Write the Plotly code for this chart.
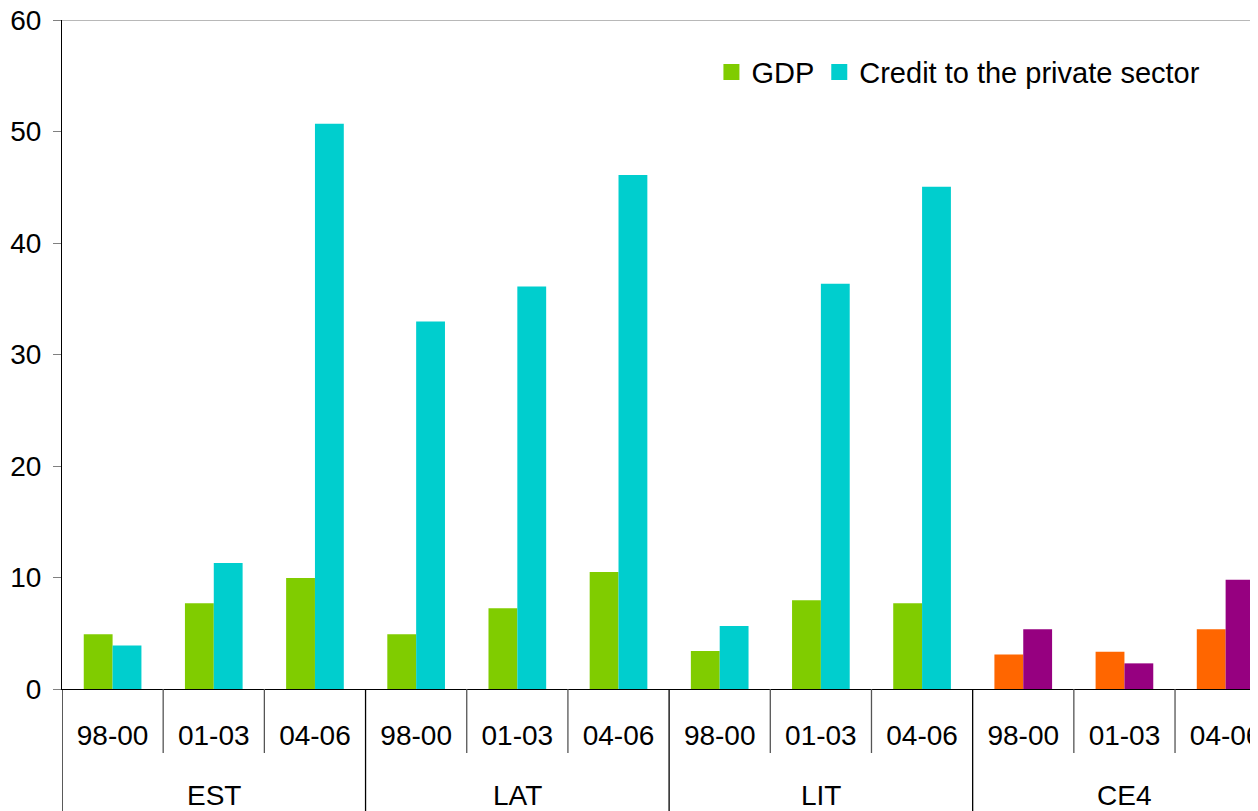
import plotly.graph_objects as go

groups = ["EST", "LAT", "LIT", "CE4"]
periods = ["98-00", "01-03", "04-06"] * 4
gdp = [4.9, 7.7, 9.95, 4.9, 7.25, 10.5, 3.4, 7.95, 7.7, 3.1, 3.35, 5.35]
credit = [3.9, 11.3, 50.7, 32.95, 36.1, 46.1, 5.65, 36.35, 45.05, 5.35, 2.3, 9.8]

GREEN, CYAN, ORANGE, PURPLE = "#80CC00", "#00CECE", "#FF6600", "#960080"
gdp_colors = [GREEN] * 9 + [ORANGE] * 3
credit_colors = [CYAN] * 9 + [PURPLE] * 3

FONT = "Liberation Sans, Arial, sans-serif"
pos = list(range(len(periods)))

# page body has an 8px margin; the figure is sized so the plot lands where the reference has it
W, H = 1250, 803
PLOT_H = 669

fig = go.Figure()
fig.add_trace(go.Bar(x=pos, y=gdp, name="GDP",
                     marker=dict(color=gdp_colors, line=dict(width=0)), showlegend=False))
fig.add_trace(go.Bar(x=pos, y=credit, name="Credit to the private sector",
                     marker=dict(color=credit_colors, line=dict(width=0)), showlegend=False))
# legend entries
fig.add_trace(go.Scatter(x=[None], y=[None], mode="markers", name="GDP",
                         marker=dict(symbol="square", size=16, color=GREEN)))
fig.add_trace(go.Scatter(x=[None], y=[None], mode="markers", name="Credit to the private sector",
                         marker=dict(symbol="square", size=16, color=CYAN)))

fig.update_layout(
    width=W, height=H,
    margin=dict(l=54, r=0, t=12, b=H - 12 - PLOT_H, autoexpand=False),
    paper_bgcolor="white", plot_bgcolor="white",
    barmode="group", bargap=0.43, bargroupgap=0,
    font=dict(family=FONT, size=28, color="black"),
    legend=dict(orientation="h", x=0.543, y=0.922, xanchor="left", yanchor="middle",
                bgcolor="rgba(0,0,0,0)", font=dict(size=29), itemwidth=30,
                tracegroupgap=0),
    showlegend=True,
)
fig.update_xaxes(
    range=[-0.5, 11.32], automargin=False,
    tickmode="array", tickvals=pos, ticktext=periods, ticks="",
    ticklabelstandoff=21, ticklabeloverflow="allow",
    showline=True, linecolor="black", linewidth=1,
    showgrid=False, zeroline=False, tickfont=dict(size=28),
)
fig.update_yaxes(
    range=[0, 60], dtick=10, automargin=False,
    showline=True, linecolor="black", linewidth=1,
    ticks="outside", ticklen=8, tickcolor="#808080", ticklabelstandoff=6,
    ticklabeloverflow="allow",
    showgrid=False, zeroline=False, tickfont=dict(size=28),
)
# top border line at 60
fig.add_shape(type="line", xref="paper", x0=0, x1=1, yref="y", y0=60, y1=60,
              line=dict(color="#A0A0A0", width=1.5))

# category separators (short) and group dividers (long)
short_bottom = -64 / PLOT_H
long_bottom = -0.25
for i in range(len(periods) + 1):
    xb = i - 0.5
    is_group = (i % 3 == 0)
    fig.add_shape(type="line", xref="x", yref="paper", x0=xb, x1=xb,
                  y0=0, y1=long_bottom if is_group else short_bottom,
                  line=dict(color="black" if is_group else "#555555", width=1.3))

# group labels
for g, name in enumerate(groups):
    fig.add_annotation(x=g * 3 + 1, xref="x", y=-106 / PLOT_H, yref="paper",
                       text=name, showarrow=False, yanchor="middle",
                       font=dict(size=28, family=FONT, color="black"))

fig.write_html("out.html")
